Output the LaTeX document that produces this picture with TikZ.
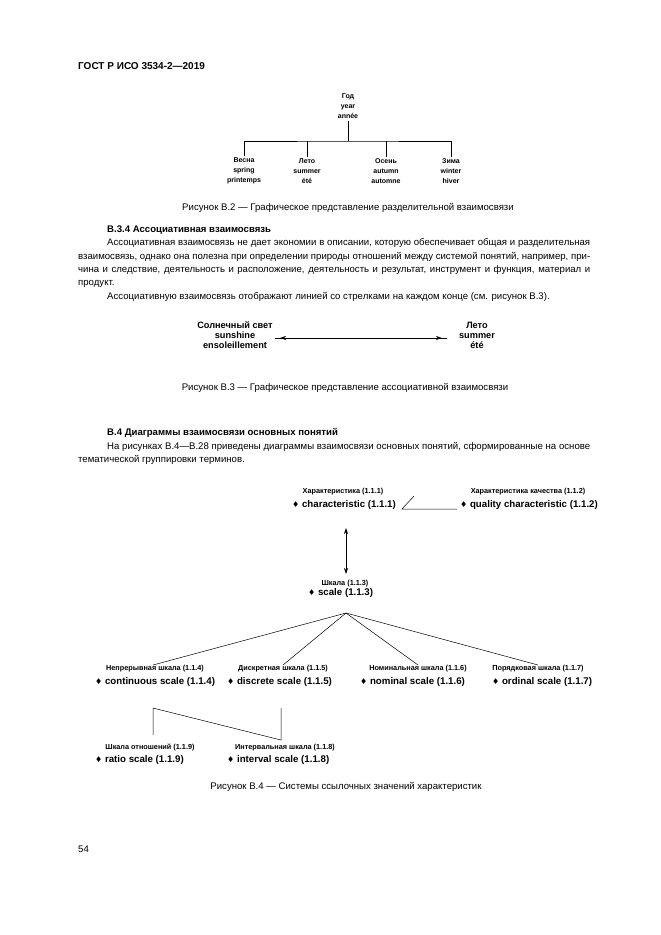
\documentclass[tikz,border=0pt]{standalone}
\usepackage{fontspec}
\setmainfont{Liberation Sans}
\newfontfamily\djv{DejaVu Sans}
\usetikzlibrary{arrows.meta}
\newcommand{\dmd}{{\djv\fontsize{8}{8}\selectfont ♦}\ }
\begin{document}
\begin{tikzpicture}[x=1pt,y=-1pt,
  body/.style={anchor=base west,inner sep=0pt,font=\fontsize{9.6}{12}\selectfont},
  capt/.style={anchor=base,inner sep=0pt,font=\fontsize{9.6}{12}\selectfont},
  head/.style={anchor=base west,inner sep=0pt,font=\bfseries\fontsize{9.6}{12}\selectfont},
  tri/.style={align=center,inner sep=1.5pt,font=\bfseries\fontsize{7}{10}\selectfont},
  tribig/.style={align=center,inner sep=1pt,font=\bfseries\fontsize{9.2}{10}\selectfont},
  ru/.style={anchor=base,inner sep=0pt,font=\bfseries\fontsize{7.3}{8}\selectfont},
  en/.style={anchor=base west,inner sep=0pt,font=\bfseries\fontsize{9.7}{11}\selectfont},
  ln/.style={line width=0.7pt},
  thin/.style={line width=0.5pt},
  tips/.style={line width=0.7pt,{Stealth[length=6pt,width=4pt]}-{Stealth[length=6pt,width=4pt]}}
]
\useasboundingbox[fill=white] (0,0) rectangle (661,935);

% header
\node[head,font=\bfseries\fontsize{10}{12}\selectfont] (hdr) at (78,69.5) {ГОСТ Р ИСО 3534-2—2019};

% Figure B.2
\node[tri] (year) at (348,106.5) {Год\\year\\année};
\node[tri] (spring) at (244,171) {Весна\\spring\\printemps};
\node[tri] (summer) at (307,171) {Лето\\summer\\été};
\node[tri] (autumn) at (386,171) {Осень\\autumn\\automne};
\node[tri] (winter) at (451,171) {Зима\\winter\\hiver};
\coordinate (j) at (348,141);
\draw[ln] (year.south) -- (j);
\draw[ln] (spring.north) |- (j) -| (winter.north);
\draw[ln] (summer.north) -- (summer.north |- j);
\draw[ln] (autumn.north) -- (autumn.north |- j);
\node[capt] (c2) at (348,210.5) {Рисунок В.2 — Графическое представление разделительной взаимосвязи};

% B.3.4 text
\node[head] (h34) at (107,232.5) {В.3.4 Ассоциативная взаимосвязь};
\node[body] (p1) at (107,245.5) {\hbox to 483pt{Ассоциативная взаимосвязь не дает экономии в описании, которую обеспечивает общая и разделительная}};
\node[body] (p2) at (78,259) {\hbox to 512pt{взаимосвязь, однако она полезна при определении природы отношений между системой понятий, например, при-}};
\node[body] (p3) at (78,272.5) {\hbox to 512pt{чина и следствие, деятельность и расположение, деятельность и результат, инструмент и функция, материал и}};
\node[body] (p4) at (78,285.5) {продукт.};
\node[body] (p5) at (107,299.5) {Ассоциативную взаимосвязь отображают линией со стрелками на каждом конце (см. рисунок В.3).};

% Figure B.3
\node[tribig] (sun) at (235,335) {Солнечный свет\\sunshine\\ensoleillement};
\node[tribig] (sumr) at (477,335) {Лето\\summer\\été};
\coordinate (aL) at (275,338);
\coordinate (aR) at (447,338);
\draw[ln] (aL) -- (aR);
\draw[tips] ([xshift=5pt]aL) -- ([xshift=-5pt]aR);
\node[capt] (c3) at (345,390.5) {Рисунок В.3 — Графическое представление ассоциативной взаимосвязи};

% B.4 text
\node[head] (h4) at (107,435.5) {В.4 Диаграммы взаимосвязи основных понятий};
\node[body] (q1) at (107,449.5) {\hbox to 483pt{На рисунках В.4—В.28 приведены диаграммы взаимосвязи основных понятий, сформированные на основе}};
\node[body] (q2) at (78,462.5) {тематической группировки терминов.};

% Figure B.4
\node[ru] (charR) at (343,493.5) {Характеристика (1.1.1)};
\node[en] (charE) at (292,507.5) {\dmd characteristic (1.1.1)};
\node[ru] (qualR) at (528,493.5) {Характеристика качества (1.1.2)};
\node[en] (qualE) at (460,507.5) {\dmd quality characteristic (1.1.2)};
\coordinate (k1) at (414,496);
\coordinate (k2) at (402,509);
\draw[thin] (k1) -- (k2) -- ([xshift=-3pt]qualE.west |- k2);

\node[ru] (scaleR) at (345,585.5) {Шкала (1.1.3)};
\node[en] (scaleE) at (308,595.5) {\dmd scale (1.1.3)};
\coordinate (vt) at (346,528);
\coordinate (vb) at (346,574);
\draw[tips] (vt) -- (vb);

\coordinate (apex) at (346,613);
\node[ru] (contR) at (155,670.5) {Непрерывная шкала (1.1.4)};
\node[en] (contE) at (95,684.5) {\dmd continuous scale (1.1.4)};
\node[ru] (discR) at (283,670.5) {Дискретная шкала (1.1.5)};
\node[en] (discE) at (227,684.5) {\dmd discrete scale (1.1.5)};
\node[ru] (nomR) at (418,670.5) {Номинальная шкала (1.1.6)};
\node[en] (nomE) at (360,684.5) {\dmd nominal scale (1.1.6)};
\node[ru] (ordR) at (538,670.5) {Порядковая шкала (1.1.7)};
\node[en] (ordE) at (492,684.5) {\dmd ordinal scale (1.1.7)};
\draw[thin] (apex) -- ([xshift=-2pt]contR.north);
\draw[thin] (apex) -- (discR.north);
\draw[thin] (apex) -- (nomR.north);
\draw[thin] (apex) -- (ordR.north);

\node[ru] (ratR) at (150,749.5) {Шкала отношений (1.1.9)};
\node[en] (ratE) at (95,762.5) {\dmd ratio scale (1.1.9)};
\node[ru] (intR) at (285,749.5) {Интервальная шкала (1.1.8)};
\node[en] (intE) at (227,762.5) {\dmd interval scale (1.1.8)};
\coordinate (r1) at (153,708);
\coordinate (r2) at (153,735);
\coordinate (i1) at (281,708);
\coordinate (i2) at (281,740);
\draw[thin] (r2) -- (r1) -- (i2) -- (i1);
\node[capt] (c4) at (346,789.5) {Рисунок В.4 — Системы ссылочных значений характеристик};

\node[body] (pg) at (78,852.5) {54};
\end{tikzpicture}
\end{document}
